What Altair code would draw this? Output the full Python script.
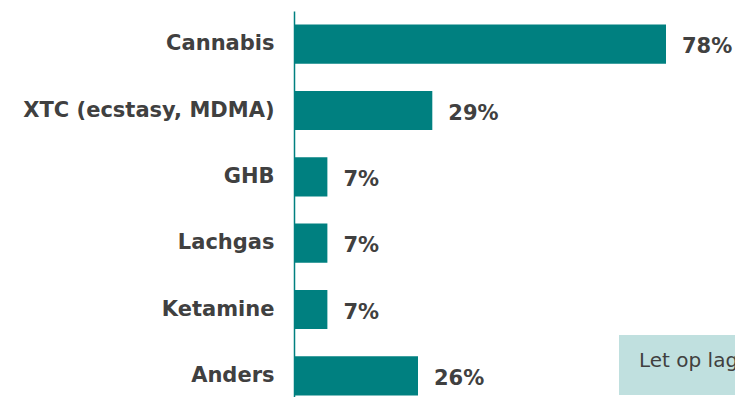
import altair as alt
import pandas as pd

categories = ["Cannabis", "XTC (ecstasy, MDMA)", "GHB", "Lachgas", "Ketamine", "Anders"]
values = [78, 29, 7, 7, 7, 26]
labels = ["78%", "29%", "7%", "7%", "7%", "26%"]
note_text = "Let op lage aantallen"

df = pd.DataFrame({"cat": categories, "val": values, "lab": labels})

W = 441
H = 386
xmax = W / 372 * 78

x = alt.X("val:Q", scale=alt.Scale(domain=[0, xmax], nice=False, zero=True), axis=None)
y = alt.Y("cat:N", sort=categories, title=None,
          scale=alt.Scale(paddingInner=0.41, paddingOuter=0.205, range=[0, 398]),
          axis=alt.Axis(domainColor="#008080", domainWidth=1.5, ticks=False,
                        labelExpr="datum.value == 'Cannabis' ? 'Cannabis\u00a0' : datum.value",
                        labelFontSize=21, labelFont="DejaVu Sans", labelFontWeight="bold",
                        labelColor="#404040", labelPadding=20, labelLimit=400))

bars = alt.Chart(df).mark_bar(color="#008080").encode(x=x, y=y)
text = alt.Chart(df).mark_text(align="left", baseline="middle", dx=16, dy=3,
                               font="DejaVu Sans", fontWeight="bold", fontSize=21,
                               color="#404040").encode(x=x, y=y, text="lab:N")

box = alt.Chart(pd.DataFrame({"t": [note_text]})).mark_rect(color="#c0e0df").encode(
    x=alt.value(325), x2=alt.value(470), y=alt.value(324), y2=alt.value(384))
note = alt.Chart(pd.DataFrame({"t": [note_text]})).mark_text(
    align="left", baseline="alphabetic", font="DejaVu Sans", fontSize=20, color="#404040"
).encode(x=alt.value(345), y=alt.value(356), text="t:N")

chart = alt.layer(bars, text, box, note).properties(
    width=W, height=H, autosize=alt.AutoSizeParams(type="none"),
    padding={"left": 286, "top": 3, "right": 0, "bottom": 0}
).configure_view(stroke=None)

chart.save("out.html", embed_options={"renderer": "svg", "actions": False})
